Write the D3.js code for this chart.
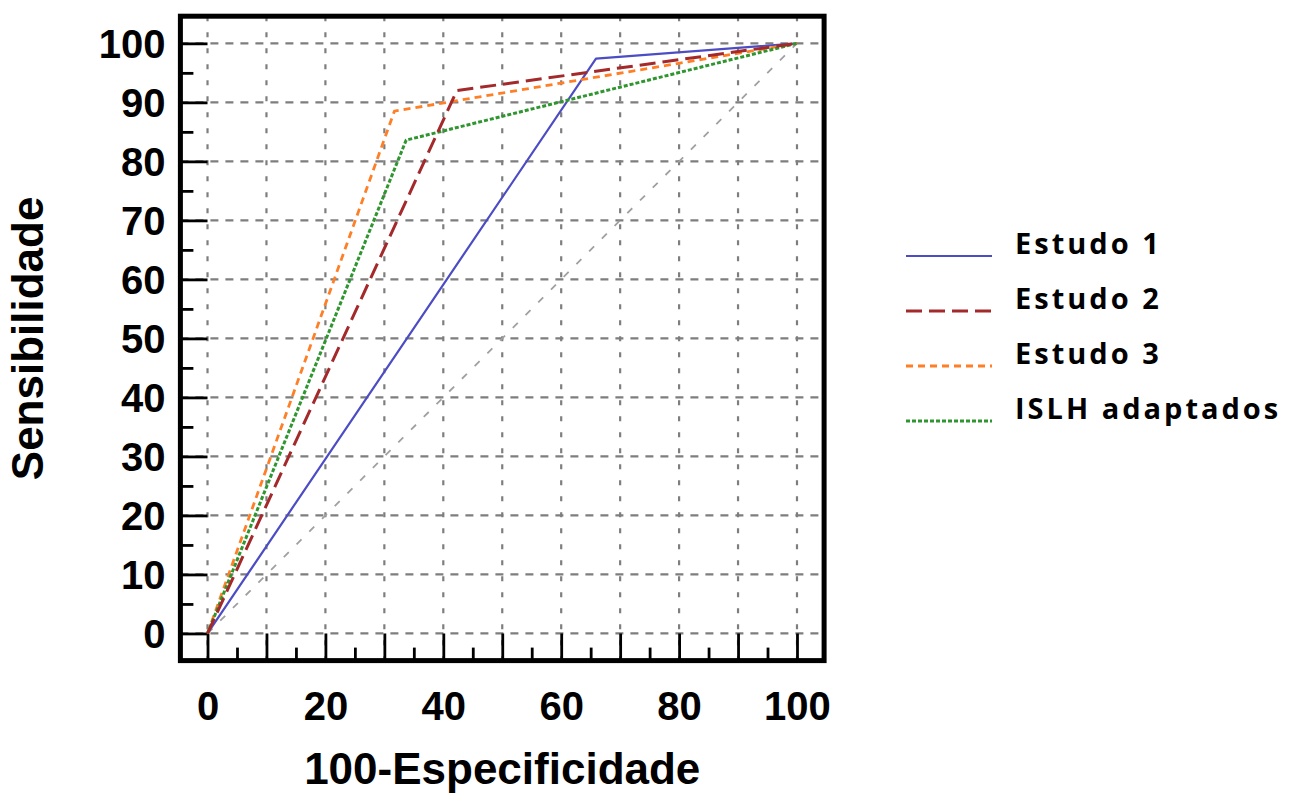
<!DOCTYPE html>
<html>
<head>
<meta charset="utf-8">
<script src="https://cdn.jsdelivr.net/npm/d3@7"></script>
<style>
  body { margin: 0; background: #fff; }
  svg { display: block; }
</style>
</head>
<body>
<div id="chart"></div>
<script>
// data
var seriesNames = ['Estudo 1', 'Estudo 2', 'Estudo 3', 'ISLH adaptados']
var fpr1 = [0, 65.9, 100], sens1 = [0, 97.4, 100]
var fpr2 = [0, 42.3, 100], sens2 = [0, 92.0, 100]
var fpr3 = [0, 31.7, 100], sens3 = [0, 88.5, 100]
var fpr4 = [0, 33.7, 100], sens4 = [0, 83.6, 100]
var xTickLabels = [0, 20, 40, 60, 80, 100]
var yTickLabels = [0, 10, 20, 30, 40, 50, 60, 70, 80, 90, 100]

var W = 1299, H = 793

var svg = d3.select('#chart').append('svg')
    .attr('width', W)
    .attr('height', H)

var x = d3.scaleLinear().domain([-4.6, 104.6]).range([180.4, 824.1])
var y = d3.scaleLinear().domain([-4.6, 104.6]).range([660.6, 16.2])

var majors = d3.range(0, 101, 10)
var minors = d3.range(5, 100, 10)

// grid
var grid = svg.append('g').attr('class', 'grid')
grid.selectAll('.vgrid')
    .data(majors)
    .enter().append('line')
    .attr('x1', d => x(d)).attr('x2', d => x(d))
    .attr('y1', y(104.6)).attr('y2', y(-4.6))
    .attr('stroke', '#7e7e7e')
    .attr('stroke-width', 2.2)
    .attr('stroke-dasharray', '5,11')
grid.selectAll('.hgrid')
    .data(majors)
    .enter().append('line')
    .attr('x1', x(-4.6)).attr('x2', x(104.6))
    .attr('y1', d => y(d)).attr('y2', d => y(d))
    .attr('stroke', '#7e7e7e')
    .attr('stroke-width', 2.2)
    .attr('stroke-dasharray', '8,7')

// chance diagonal
svg.append('line')
    .attr('x1', x(0)).attr('y1', y(0))
    .attr('x2', x(100)).attr('y2', y(100))
    .attr('stroke', '#a0a0a0')
    .attr('stroke-width', 1.8)
    .attr('stroke-dasharray', '7,11')

// ticks (drawn inward from the frame)
var majLen = x(0) - x(-4.6)
function styleTicks(g) {
    g.select('.domain').remove()
    g.selectAll('line').attr('stroke', '#000').attr('stroke-width', 2.8)
}
svg.append('g')
    .attr('transform', 'translate(0,' + y(-4.6) + ')')
    .call(d3.axisBottom(x).tickValues(majors).tickSize(-majLen).tickFormat(''))
    .call(styleTicks)
svg.append('g')
    .attr('transform', 'translate(0,' + y(-4.6) + ')')
    .call(d3.axisBottom(x).tickValues(minors).tickSize(-13).tickFormat(''))
    .call(styleTicks)
svg.append('g')
    .attr('transform', 'translate(' + x(-4.6) + ',0)')
    .call(d3.axisLeft(y).tickValues(majors).tickSize(-majLen).tickFormat(''))
    .call(styleTicks)
svg.append('g')
    .attr('transform', 'translate(' + x(-4.6) + ',0)')
    .call(d3.axisLeft(y).tickValues(minors).tickSize(-13).tickFormat(''))
    .call(styleTicks)

// tick labels
var xLab = svg.append('g')
    .attr('transform', 'translate(0,' + y(-4.6) + ')')
    .call(d3.axisBottom(x).tickValues(xTickLabels).tickSize(0).tickPadding(0))
xLab.select('.domain').remove()
xLab.selectAll('text')
    .attr('y', 59).attr('dy', 0)
    .attr('font-family', '"Liberation Sans", Arial, sans-serif')
    .attr('font-weight', 'bold')
    .attr('font-size', 40)
    .attr('fill', '#000')

var yLab = svg.append('g')
    .attr('transform', 'translate(' + x(-4.6) + ',0)')
    .call(d3.axisLeft(y).tickValues(yTickLabels).tickSize(0).tickPadding(0))
yLab.select('.domain').remove()
yLab.selectAll('text')
    .attr('x', -15).attr('dy', '0.36em')
    .attr('font-family', '"Liberation Sans", Arial, sans-serif')
    .attr('font-weight', 'bold')
    .attr('font-size', 40)
    .attr('fill', '#000')

// axis titles
svg.append('text')
    .attr('x', x(50)).attr('y', 784)
    .attr('text-anchor', 'middle')
    .attr('font-family', '"Liberation Sans", Arial, sans-serif')
    .attr('font-weight', 'bold')
    .attr('font-size', 44)
    .text('100-Especificidade')
svg.append('text')
    .attr('transform', 'translate(43,' + y(50) + ') rotate(-90)')
    .attr('text-anchor', 'middle')
    .attr('font-family', '"Liberation Sans", Arial, sans-serif')
    .attr('font-weight', 'bold')
    .attr('font-size', 44)
    .text('Sensibilidade')

// curves
var curves = [
    { name: seriesNames[0], xs: fpr1, ys: sens1, color: '#4c4cc4', width: 2.2, dash: null },
    { name: seriesNames[1], xs: fpr2, ys: sens2, color: '#a3292b', width: 3, dash: '16,7' },
    { name: seriesNames[2], xs: fpr3, ys: sens3, color: '#ff7f27', width: 2.8, dash: '7,5' },
    { name: seriesNames[3], xs: fpr4, ys: sens4, color: '#2f962f', width: 3, dash: '4,2' }
]
var drawOrder = [0, 2, 3, 1]

var line = d3.line()
    .x(d => x(d[0]))
    .y(d => y(d[1]))

svg.append('g').selectAll('path')
    .data(drawOrder.map(i => curves[i]))
    .enter().append('path')
    .attr('d', d => line(d.xs.map((v, i) => [v, d.ys[i]])))
    .attr('fill', 'none')
    .attr('stroke', d => d.color)
    .attr('stroke-width', d => d.width)
    .attr('stroke-dasharray', d => d.dash)
    .attr('stroke-linejoin', 'round')

// frame
svg.append('rect')
    .attr('x', x(-4.6)).attr('y', y(104.6))
    .attr('width', x(104.6) - x(-4.6))
    .attr('height', y(-4.6) - y(104.6))
    .attr('fill', 'none')
    .attr('stroke', '#000')
    .attr('stroke-width', 5)

// legend
var legend = svg.append('g').attr('transform', 'translate(906,256)')
var item = legend.selectAll('.item')
    .data(curves)
    .enter().append('g')
    .attr('class', 'item')
    .attr('transform', (d, i) => 'translate(0,' + i * 55 + ')')
item.append('line')
    .attr('x1', 0).attr('x2', 86)
    .attr('stroke', d => d.color)
    .attr('stroke-width', d => d.width)
    .attr('stroke-dasharray', d => d.dash)
item.append('text')
    .attr('x', 109).attr('y', -2)
    .attr('font-family', '"Open Sans", sans-serif')
    .attr('font-weight', 700)
    .attr('font-size', 29)
    .attr('letter-spacing', 3)
    .attr('fill', '#000')
    .text(d => d.name)
</script>
</body>
</html>
